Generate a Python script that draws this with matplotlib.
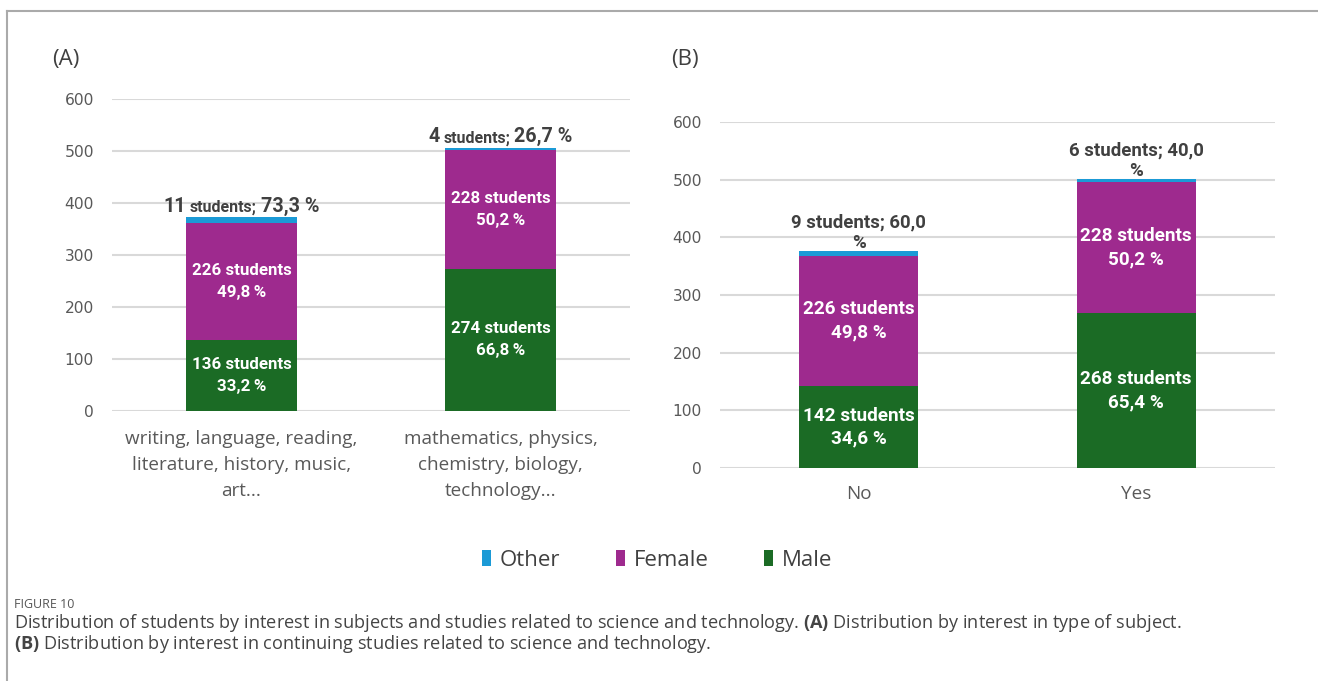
import matplotlib
matplotlib.use("Agg")
import matplotlib.pyplot as plt
from matplotlib.patches import Patch
from matplotlib.lines import Line2D
from matplotlib.offsetbox import TextArea, HPacker, AnnotationBbox

# ---- data ----
series = ["Other", "Female", "Male"]
colors = {"Male": "#1b6b25", "Female": "#9e2a8e", "Other": "#1b9ad6"}

cats_a = ["writing, language, reading,\nliterature, history, music,\nart...",
          "mathematics, physics,\nchemistry, biology,\ntechnology..."]
male_a = [136, 274]
female_a = [226, 228]
other_a = [11, 4]
male_pct_a = ["33,2", "66,8"]
female_pct_a = ["49,8", "50,2"]
other_pct_a = ["73,3", "26,7"]

cats_b = ["No", "Yes"]
male_b = [142, 268]
female_b = [226, 228]
other_b = [9, 6]
male_pct_b = ["34,6", "65,4"]
female_pct_b = ["49,8", "50,2"]
other_pct_b = ["60,0", "40,0"]

yticks = [0, 100, 200, 300, 400, 500, 600]

W, H = 1318, 681
fig = plt.figure(figsize=(W / 100, H / 100), dpi=100)

TICK_C = "#595959"
GRID_C = "#d9d9d9"
LABEL_FONT = ["Roboto", "DejaVu Sans"]
AX_FONT = ["Open Sans", "DejaVu Sans"]
TICK_FONT = ["DejaVu Sans"]


def px_axes(x0, x1, y_top, y_bot):
    return fig.add_axes([x0 / W, 1 - y_bot / H, (x1 - x0) / W, (y_bot - y_top) / H])


def style_axes(ax, cats, xpad):
    ax.set_xlim(-0.5, 1.5)
    ax.set_ylim(0, 600)
    ax.set_yticks(yticks)
    ax.set_yticklabels([str(t) for t in yticks], family=TICK_FONT, fontsize=11.2, color=TICK_C)
    ax.set_xticks(range(len(cats)))
    ax.set_xticklabels(cats, family=AX_FONT, fontsize=13.6, color=TICK_C, linespacing=1.55)
    ax.tick_params(axis="y", length=0, pad=13)
    ax.tick_params(axis="x", length=0, pad=xpad)
    for s in ax.spines.values():
        s.set_visible(False)
    ax.grid(axis="y", color=GRID_C, linewidth=1.5)
    ax.set_axisbelow(True)


def draw_stack(ax, male, female, other, width):
    x = list(range(len(male)))
    ax.bar(x, male, width, color=colors["Male"], zorder=2)
    ax.bar(x, female, width, bottom=male, color=colors["Female"], zorder=2)
    base = [m + f for m, f in zip(male, female)]
    ax.bar(x, other, width, bottom=base, color=colors["Other"], zorder=2)
    return x, base


def inside_labels(ax, x, bottoms, vals, pcts, fs, pct_sep, ls):
    for xi, b, v, p in zip(x, bottoms, vals, pcts):
        ax.text(xi, b + v / 2, f"{v} students\n{p}{pct_sep}%", ha="center", va="center",
                color="white", fontsize=fs, fontweight="bold", family=LABEL_FONT,
                linespacing=ls, zorder=3)


# ---- panel A ----
ax_a = px_axes(112, 630, 99, 411)
style_axes(ax_a, cats_a, 14)
xa, base_a = draw_stack(ax_a, male_a, female_a, other_a, 0.43)
inside_labels(ax_a, xa, [0, 0], male_a, male_pct_a, 12.2, "\u2009", 1.55)
inside_labels(ax_a, xa, male_a, female_a, female_pct_a, 12.2, "\u2009", 1.55)
for xi, b, o, v, p in zip(xa, base_a, other_a, other_a, other_pct_a):
    parts = [TextArea(f"{v}", textprops=dict(fontsize=14.2, fontweight="bold", color="#404040", family=LABEL_FONT)),
             TextArea("students;", textprops=dict(fontsize=11.5, fontweight="bold", color="#404040", family=LABEL_FONT)),
             TextArea(f"{p} %", textprops=dict(fontsize=14.2, fontweight="bold", color="#404040", family=LABEL_FONT))]
    box = HPacker(children=parts, align="baseline", pad=0, sep=3)
    ab = AnnotationBbox(box, (xi, b + o), xybox=(0, 1), xycoords="data",
                        boxcoords="offset points", box_alignment=(0.5, 0),
                        frameon=False, zorder=4)
    ax_a.add_artist(ab)
fig.text(52 / W, 1 - 60 / H, "(A)", family=AX_FONT, fontsize=16, color="#404040", va="center")

# ---- panel B ----
ax_b = px_axes(720, 1275, 122, 468)
style_axes(ax_b, cats_b, 12)
xb, base_b = draw_stack(ax_b, male_b, female_b, other_b, 0.43)
inside_labels(ax_b, xb, [0, 0], male_b, male_pct_b, 13.6, " ", 1.35)
inside_labels(ax_b, xb, male_b, female_b, female_pct_b, 13.6, " ", 1.35)
for xi, b, o, v, p in zip(xb, base_b, other_b, other_b, other_pct_b):
    ax_b.annotate(f"{v} students; {p}\n%", (xi, b + o), xytext=(0, -1),
                  textcoords="offset points", ha="center", va="bottom",
                  fontsize=13.4, fontweight="bold", color="#404040", family=LABEL_FONT,
                  linespacing=1.15, zorder=4)
fig.text(671 / W, 1 - 60 / H, "(B)", family=AX_FONT, fontsize=16, color="#404040", va="center")

# ---- legend ----
handles = [Patch(facecolor=colors[s], edgecolor="none") for s in series]
fig.legend(handles, series, loc="center", bbox_to_anchor=(657 / W, 1 - 560 / H),
           ncol=3, frameon=False, prop={"family": AX_FONT, "size": 16},
           handlelength=0.4, handleheight=0.75, handletextpad=0.4, columnspacing=2.5,
           labelcolor="#404040")

# ---- caption ----
plt.rcParams["mathtext.fontset"] = "custom"
plt.rcParams["mathtext.bf"] = "Open Sans:bold"
plt.rcParams["mathtext.rm"] = "Open Sans"
CAP_FONT = ["Open Sans", "DejaVu Sans"]
fig.text(14 / W, 1 - 604 / H, "FIGURE 10", family=CAP_FONT, fontsize=9,
         color="#555555", va="center")
fig.text(14 / W, 1 - 623 / H,
         "Distribution of students by interest in subjects and studies related to science and technology. "
         r"$\bf{(A)}$ Distribution by interest in type of subject.",
         family=CAP_FONT, fontsize=13.1, color="#444444", va="center")
fig.text(14 / W, 1 - 644 / H,
         r"$\bf{(B)}$ Distribution by interest in continuing studies related to science and technology.",
         family=CAP_FONT, fontsize=13.1, color="#444444", va="center")

# ---- frame lines ----
fig.add_artist(Line2D([7 / W, 1], [1 - 11 / H, 1 - 11 / H], color="#aaaaaa", lw=1.5))
fig.add_artist(Line2D([7 / W, 7 / W], [0, 1 - 11 / H], color="#aaaaaa", lw=1.5))

fig.savefig("out.png", dpi=100)
